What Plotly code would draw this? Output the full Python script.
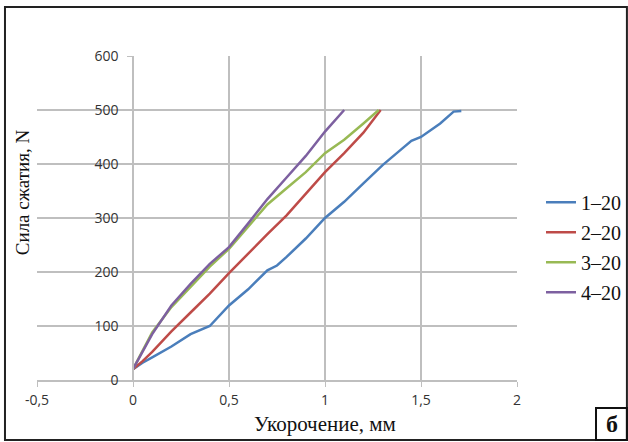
import plotly.graph_objects as go

# Data
x_1 = [0, 0.05, 0.1, 0.2, 0.3, 0.4, 0.5, 0.6, 0.7, 0.75, 0.8, 0.9, 1.0, 1.1, 1.2, 1.3, 1.4, 1.45, 1.5, 1.6, 1.67, 1.71]
y_1 = [20, 32, 42, 62, 85, 100, 138, 168, 203, 212, 228, 262, 300, 330, 364, 398, 428, 443, 450, 475, 497, 498]

x_2 = [0, 0.05, 0.1, 0.2, 0.3, 0.4, 0.5, 0.6, 0.7, 0.8, 0.9, 1.0, 1.1, 1.2, 1.29]
y_2 = [20, 35, 52, 90, 125, 160, 198, 235, 270, 305, 345, 385, 420, 458, 500]

x_3 = [0, 0.05, 0.1, 0.2, 0.3, 0.4, 0.5, 0.6, 0.7, 0.8, 0.9, 1.0, 1.1, 1.2, 1.28]
y_3 = [20, 55, 88, 135, 172, 210, 243, 285, 325, 355, 385, 420, 445, 475, 500]

x_4 = [0, 0.05, 0.1, 0.2, 0.3, 0.4, 0.5, 0.6, 0.7, 0.8, 0.9, 1.0, 1.1]
y_4 = [20, 52, 85, 138, 178, 215, 246, 290, 335, 375, 415, 460, 500]

names = ["1–20", "2–20", "3–20", "4–20"]
colors = ["#4a7ebb", "#be4b48", "#98b954", "#7d60a0"]

x_ticks = [-0.5, 0, 0.5, 1, 1.5, 2]
x_ticktext = ["-0,5", "0", "0,5", "1", "1,5", "2"]
y_ticks = [0, 100, 200, 300, 400, 500, 600]

fig = go.Figure()
for xs, ys, n, c in zip([x_1, x_2, x_3, x_4], [y_1, y_2, y_3, y_4], names, colors):
    fig.add_trace(go.Scatter(x=xs, y=ys, mode="lines", name=n, legendgroup=n,
                             line=dict(color=c, width=2.5)))

tick_font = dict(family="Open Sans, Liberation Sans, sans-serif", size=14, color="#333333")
serif = "Liberation Serif, DejaVu Serif, serif"

fig.update_layout(
    width=628, height=442,
    margin=dict(l=37, r=111, t=56, b=62, autoexpand=False),
    paper_bgcolor="white", plot_bgcolor="white",
    showlegend=True,
    legend=dict(x=1.05, y=0.41, xanchor="left", yanchor="middle",
                font=dict(family=serif, size=20, color="#111111"),
                tracegroupgap=1, traceorder="grouped", itemwidth=30,
                bgcolor="rgba(0,0,0,0)"),
    xaxis=dict(range=[-0.5, 2], tickvals=x_ticks, ticktext=x_ticktext,
               showgrid=True, gridcolor="#bfbfbf", gridwidth=1.5,
               zeroline=True, zerolinecolor="#bfbfbf", zerolinewidth=1.5,
               showline=True, linecolor="#bfbfbf", linewidth=1.5,
               ticks="outside", ticklen=5, tickcolor="#bfbfbf",
               ticklabelstandoff=1,
               tickfont=tick_font, mirror=False),
    yaxis=dict(range=[0, 600], tickvals=y_ticks, anchor="free", position=0.2,
               showgrid=True, gridcolor="#bfbfbf", gridwidth=1.5,
               zeroline=False, showline=True, linecolor="#bfbfbf", linewidth=1.5,
               ticks="outside", ticklen=5, tickcolor="#bfbfbf",
               ticklabelstandoff=6,
               tickfont=tick_font),
)

fig.add_annotation(text="Укорочение, мм", xref="paper", yref="paper",
                   x=0.6, y=-0.135, xanchor="center", yanchor="middle", showarrow=False,
                   font=dict(family=serif, size=21, color="#111111"))
fig.add_annotation(text="Сила сжатия, N", xref="paper", yref="paper",
                   x=-0.031, y=0.58, textangle=-90, xanchor="center", yanchor="middle",
                   showarrow=False, font=dict(family=serif, size=19, color="#111111"))

# outer frame
fig.add_shape(type="rect", xref="paper", yref="paper",
              x0=-0.0667, x1=1.229, y0=-0.185, y1=1.151,
              line=dict(color="#222222", width=2))
# label box
fig.add_shape(type="rect", xref="paper", yref="paper",
              x0=1.1646, x1=1.229, y0=-0.185, y1=-0.0864,
              line=dict(color="#111111", width=2))
fig.add_annotation(text="<b>б</b>", xref="paper", yref="paper",
                   x=1.197, y=-0.1357, xanchor="center", yanchor="middle", showarrow=False,
                   font=dict(family=serif, size=24, color="#111111"))

fig.write_html("out.html", post_script="document.body.style.margin='0';",
               config={"displayModeBar": False})
